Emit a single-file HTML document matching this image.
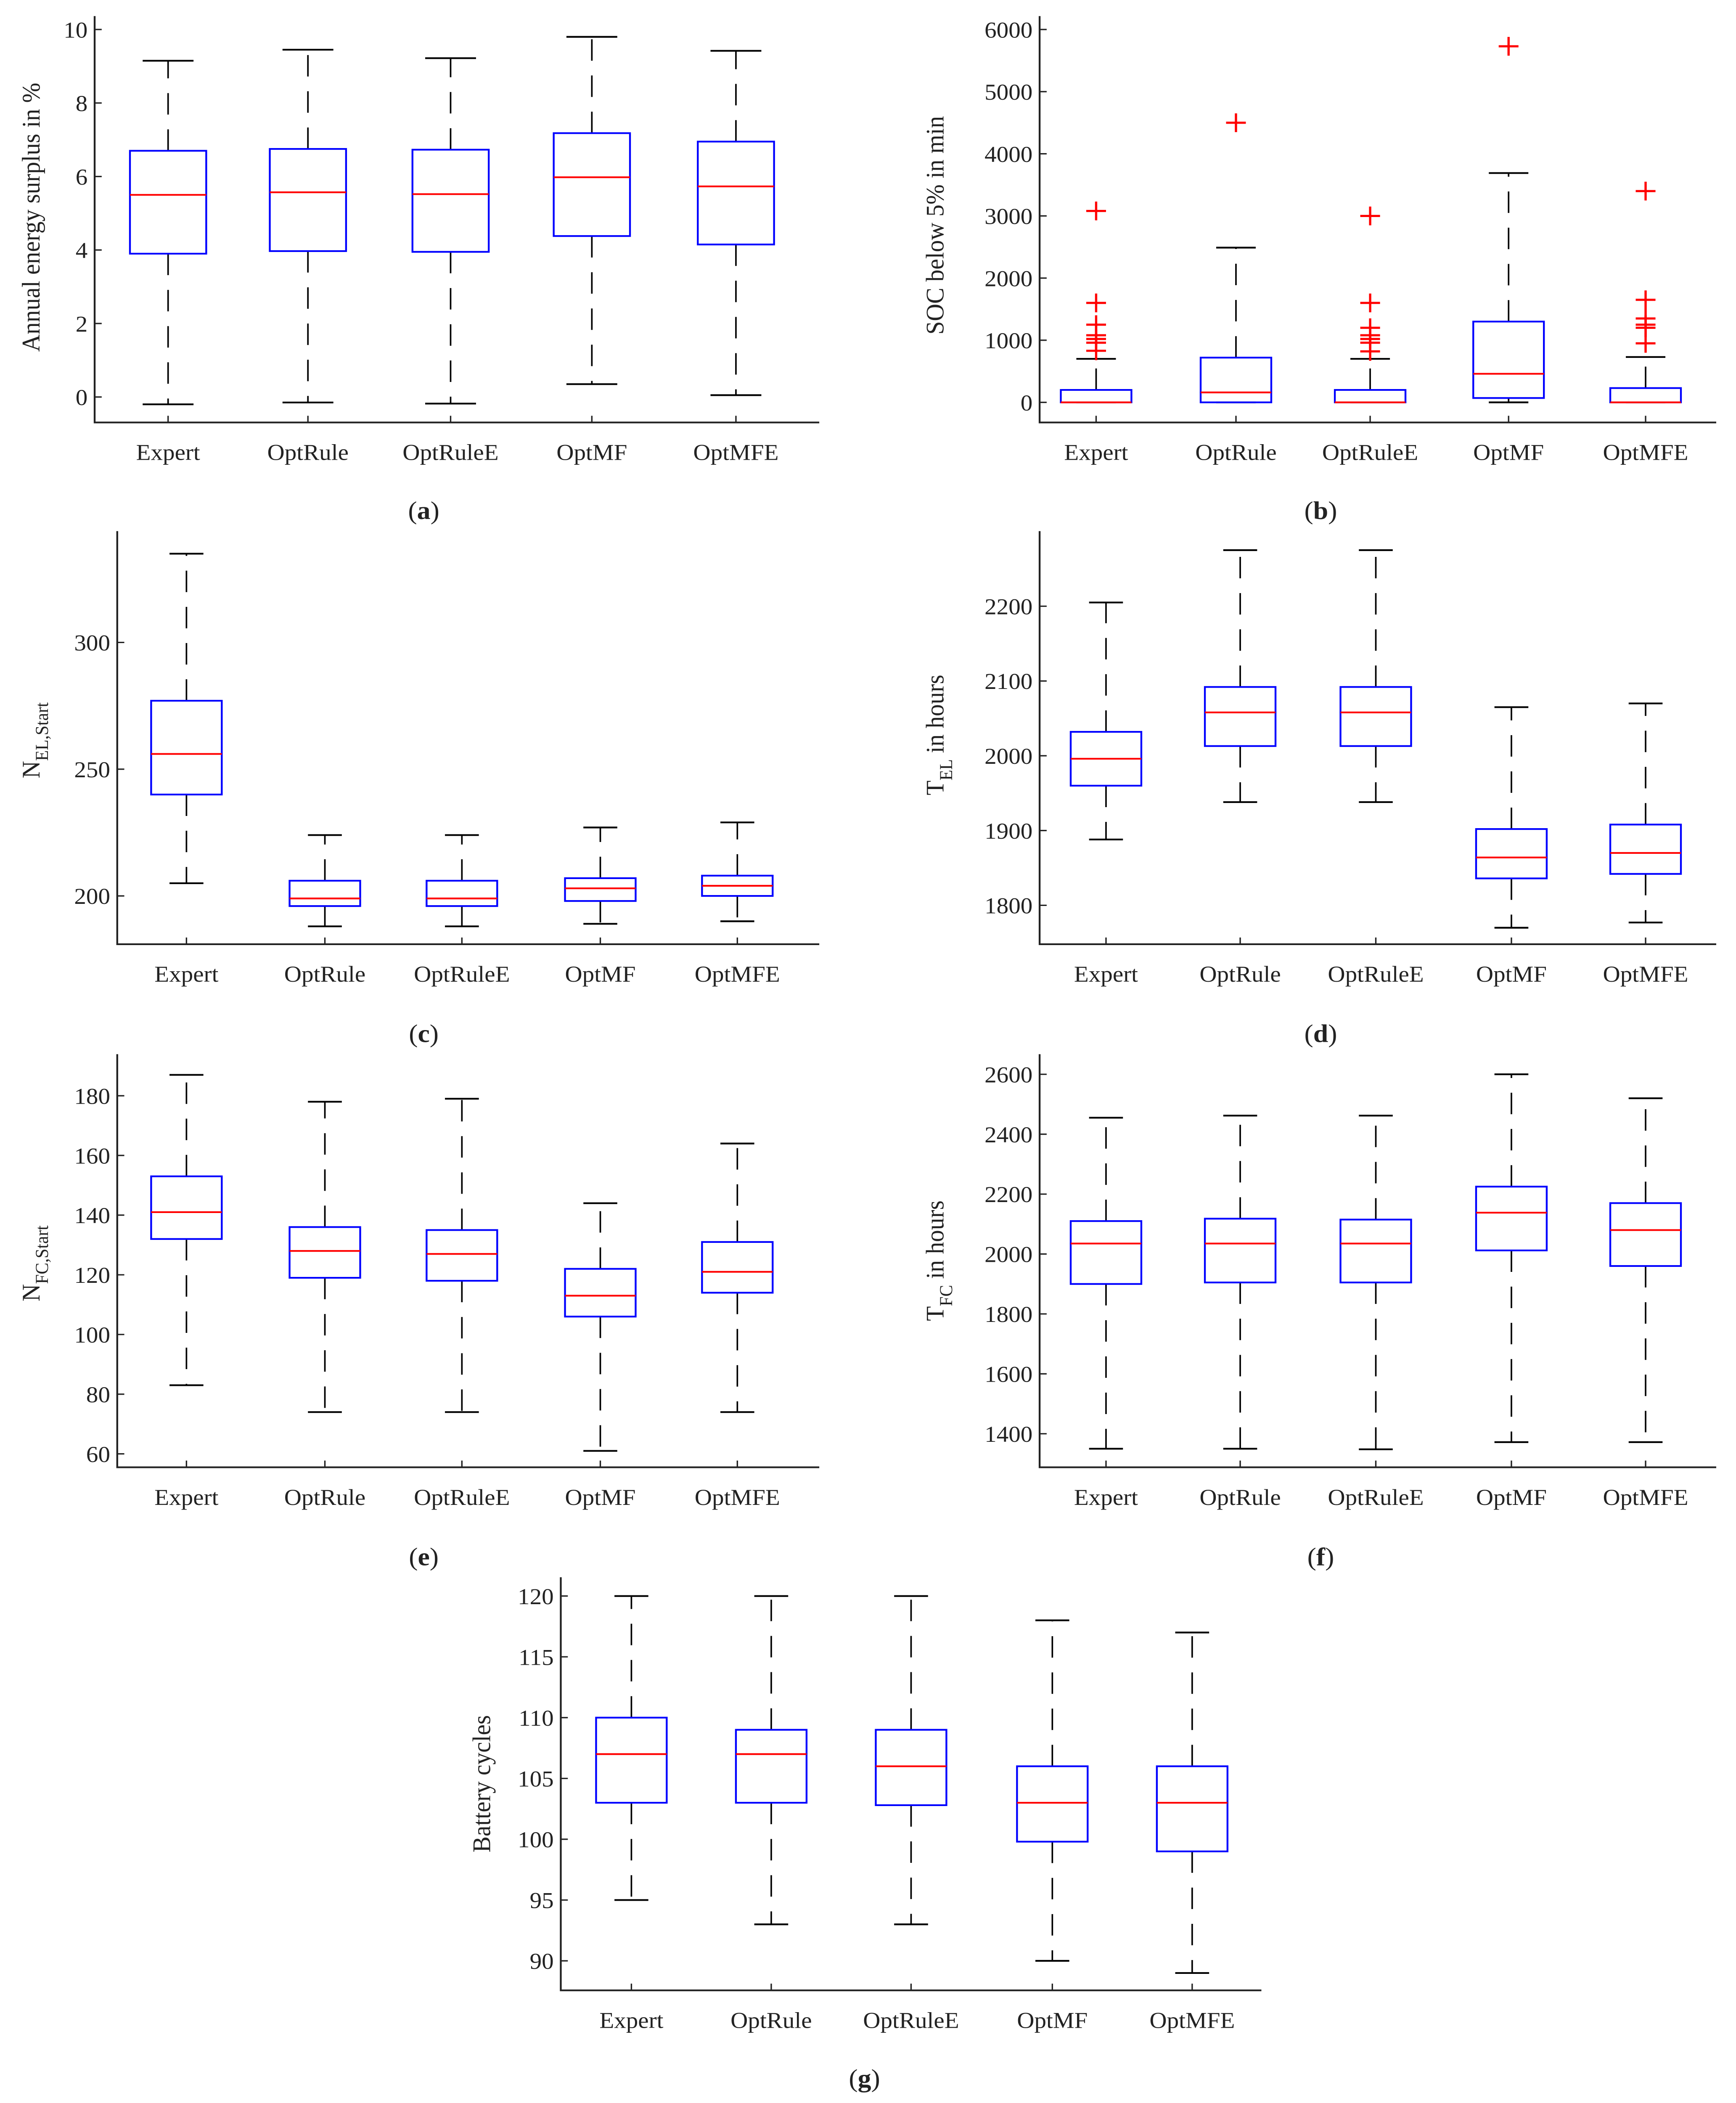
<!DOCTYPE html>
<html><head><meta charset="utf-8">
<style>
html,body{margin:0;padding:0;background:#fff;overflow:hidden;width:100%;height:100%;}
svg{display:block;position:fixed;left:0;top:0;width:100vw;height:100vh;}
text{font-family:"Liberation Serif",serif;fill:#222;}
</style></head>
<body>
<svg id="fig" xmlns="http://www.w3.org/2000/svg" viewBox="0 0 1229 1568" preserveAspectRatio="none"></svg>
<script>
const categories = ["Expert","OptRule","OptRuleE","OptMF","OptMFE"];
// [whiskerLow, q1, median, q3, whiskerHigh]
const surplusStats = [[-0.2,3.9,5.5,6.7,9.15],[-0.15,3.97,5.57,6.75,9.45],[-0.18,3.95,5.52,6.73,9.22],[0.35,4.38,5.98,7.18,9.8],[0.05,4.15,5.73,6.95,9.42]];
const surplusTicks = [0,2,4,6,8,10];
const socStats = [[0,0,0,200,700],[0,0,160,720,2490],[0,0,0,200,700],[0,70,460,1300,3690],[0,0,0,230,730]];
const socOutliers = [[3080,1600,1250,1080,1020,960,830],[4500],[3000,1600,1200,1080,1020,960,820],[5730],[3400,1650,1350,1250,1200,950]];
const socTicks = [0,1000,2000,3000,4000,5000,6000];
const nelStats = [[205,240,256,277,335],[188,196,199,206,224],[188,196,199,206,224],[189,198,203,207,227],[190,200,204,208,229]];
const nelTicks = [200,250,300];
const telStats = [[1888,1960,1996,2032,2205],[1938,2013,2058,2092,2275],[1938,2013,2058,2092,2275],[1770,1836,1864,1902,2065],[1777,1842,1870,1908,2070]];
const telTicks = [1800,1900,2000,2100,2200];
const nfcStats = [[83,132,141,153,187],[74,119,128,136,178],[74,118,127,135,179],[61,106,113,122,144],[74,114,121,131,164]];
const nfcTicks = [60,80,100,120,140,160,180];
const tfcStats = [[1350,1900,2035,2110,2455],[1350,1905,2035,2118,2462],[1348,1905,2035,2115,2462],[1372,2012,2138,2225,2600],[1372,1960,2080,2170,2520]];
const tfcTicks = [1400,1600,1800,2000,2200,2400,2600];
const batStats = [[95,103,107,110,120],[93,103,107,109,120],[93,102.8,106,109,120],[90,99.8,103,106,118],[89,99,103,106,117]];
const batTicks = [90,95,100,105,110,115,120];

const NS="http://www.w3.org/2000/svg";
const svg=document.getElementById('fig');
function mk(tag,attrs,parent){const e=document.createElementNS(NS,tag);for(const k in attrs)e.setAttribute(k,attrs[k]);(parent||svg).appendChild(e);return e;}

function panel(p){
  const g=mk('g',{});
  
  
  const y=v=>p.y0+(v-p.v0)*(p.y1-p.y0)/(p.v1-p.v0);
  const xs=p.centers;
  const ax=mk('path',{d:`M${p.left},${p.top} V${p.bottom} H${p.right}`,stroke:'#222','stroke-width':1.3,fill:'none'},g);
  
  
  p.ticks.forEach(t=>{
    const ty=y(t);
    mk('line',{x1:p.left,x2:p.left+5,y1:ty,y2:ty,stroke:'#222','stroke-width':1},g);
    const tx=mk('text',{x:p.left-5,y:ty+6,'text-anchor':'end','font-size':17},g);
    tx.textContent=t;
    
    
  });
  categories.forEach((c,i)=>{
    mk('line',{x1:xs[i],x2:xs[i],y1:p.bottom,y2:p.bottom-5,stroke:'#222','stroke-width':1},g);
    const tx=mk('text',{x:xs[i],y:p.bottom+28,'text-anchor':'middle','font-size':17},g);
    tx.textContent=c;
    
    
    const s=p.stats[i];
    const bg=mk('g',{},g);
    
    
    const x=xs[i], hw=p.hw, cw=p.cw;
    mk('line',{x1:x,x2:x,y1:y(s[3]),y2:y(s[4]),stroke:'#000','stroke-width':1.1,'stroke-dasharray':'16 11'},bg);
    mk('line',{x1:x,x2:x,y1:y(s[1]),y2:y(s[0]),stroke:'#000','stroke-width':1.1,'stroke-dasharray':'16 11'},bg);
    mk('line',{x1:x-cw,x2:x+cw,y1:y(s[4]),y2:y(s[4]),stroke:'#000','stroke-width':1.3},bg);
    mk('line',{x1:x-cw,x2:x+cw,y1:y(s[0]),y2:y(s[0]),stroke:'#000','stroke-width':1.3},bg);
    mk('rect',{x:x-hw,y:y(s[3]),width:2*hw,height:Math.max(0.5,y(s[1])-y(s[3])),fill:'none',stroke:'#00f','stroke-width':1.3},bg);
    mk('line',{x1:x-hw,x2:x+hw,y1:y(s[2]),y2:y(s[2]),stroke:'#f00','stroke-width':1.3},bg);
    if(p.outliers){p.outliers[i].forEach(o=>{
      const oy=y(o);
      const pl=mk('path',{d:`M${x-7},${oy}H${x+7}M${x},${oy-7}V${oy+7}`,stroke:'#f00','stroke-width':1.6,fill:'none'},bg);
      
      
    });}
  });
  const yl=mk('text',{transform:`translate(${p.ylx},${p.yly}) rotate(-90)`,'text-anchor':'middle','font-size':18},g);
  yl.innerHTML=p.ylabel;
  
  
  const cap=mk('text',{x:p.capx,y:p.capy,'text-anchor':'middle','font-size':19},g);
  cap.innerHTML='(<tspan font-weight="bold">'+p.cap+'</tspan>)';
  
  
}
const sub=(a,b)=>a+'<tspan font-size="13" dy="6">'+b+'</tspan>';
panel({name:'panel-a',stats:surplusStats,ticks:surplusTicks,left:67,right:580,top:12,bottom:315,v0:0,y0:296,v1:10,y1:22,centers:[119,218,319,419,521],hw:27,cw:18,ylx:28,yly:162,ylabel:'Annual energy surplus in %',cap:'a',capx:300,capy:387});
panel({name:'panel-b',stats:socStats,outliers:socOutliers,ticks:socTicks,left:736,right:1215,top:12,bottom:315,v0:0,y0:300,v1:6000,y1:22,centers:[776,875,970,1068,1165],hw:25,cw:14,ylx:668,yly:168,ylabel:'SOC below 5% in min',cap:'b',capx:935,capy:387});
panel({name:'panel-c',stats:nelStats,ticks:nelTicks,left:83,right:580,top:396,bottom:704,v0:200,y0:668,v1:300,y1:479,centers:[132,230,327,425,522],hw:25,cw:12,ylx:28,yly:552,ylabel:sub('N','EL,Start'),cap:'c',capx:300,capy:777});
panel({name:'panel-d',stats:telStats,ticks:telTicks,left:736,right:1215,top:396,bottom:704,v0:1800,y0:675,v1:2200,y1:452,centers:[783,878,974,1070,1165],hw:25,cw:12,ylx:668,yly:548,ylabel:sub('T','EL')+'<tspan dy="-6"> in hours</tspan>',cap:'d',capx:935,capy:777});
panel({name:'panel-e',stats:nfcStats,ticks:nfcTicks,left:83,right:580,top:786,bottom:1094,v0:60,y0:1084,v1:180,y1:817,centers:[132,230,327,425,522],hw:25,cw:12,ylx:28,yly:942,ylabel:sub('N','FC,Start'),cap:'e',capx:300,capy:1167});
panel({name:'panel-f',stats:tfcStats,ticks:tfcTicks,left:736,right:1215,top:786,bottom:1094,v0:1400,y0:1069,v1:2600,y1:801,centers:[783,878,974,1070,1165],hw:25,cw:12,ylx:668,yly:940,ylabel:sub('T','FC')+'<tspan dy="-6"> in hours</tspan>',cap:'f',capx:935,capy:1167});
panel({name:'panel-g',stats:batStats,ticks:batTicks,left:397,right:893,top:1176,bottom:1484,v0:90,y0:1462,v1:120,y1:1190,centers:[447,546,645,745,844],hw:25,cw:12,ylx:347,yly:1330,ylabel:'Battery cycles',cap:'g',capx:612,capy:1556});
</script>
</body></html>
